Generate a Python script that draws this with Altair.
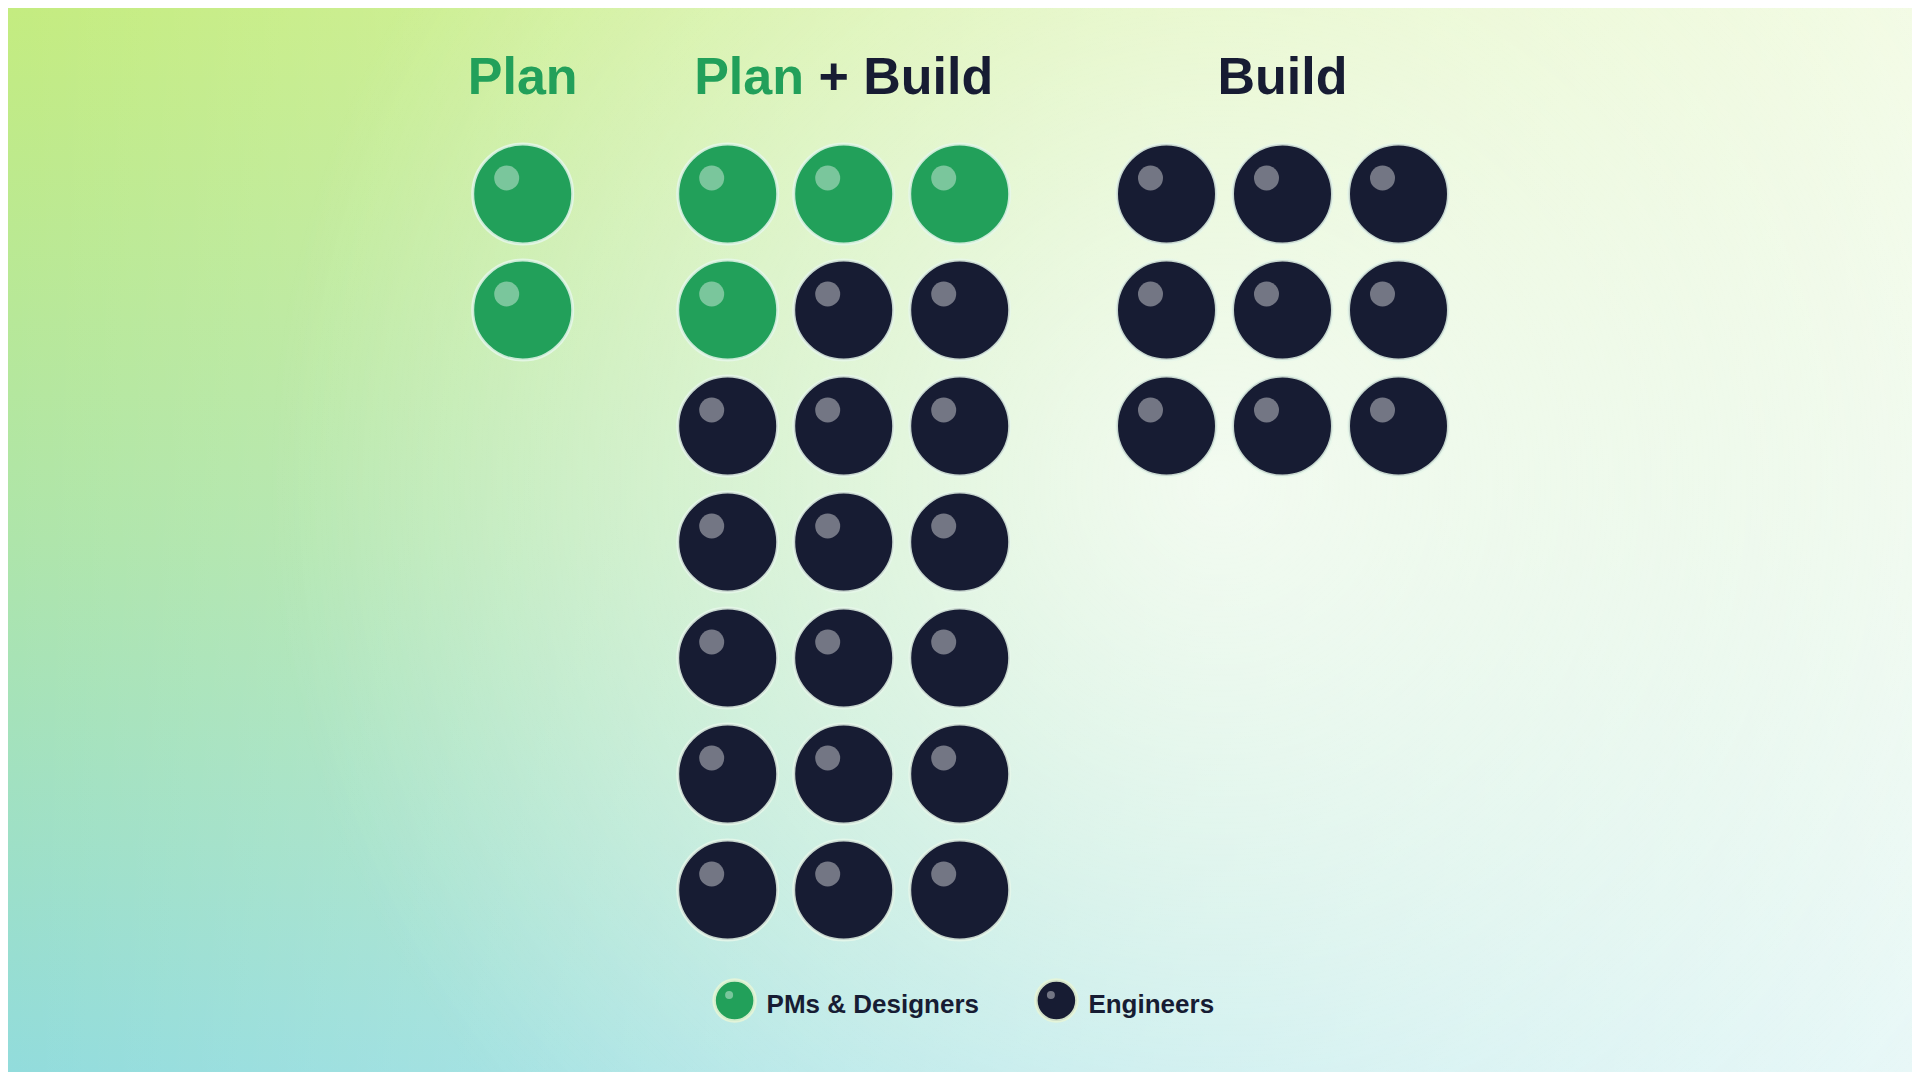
import math
import altair as alt
import pandas as pd

# ---------------- data ----------------
groups = ["Plan", "Plan + Build", "Build"]
pm_counts = [2, 4, 0]          # PMs & Designers per group
eng_counts = [0, 17, 9]        # Engineers per group
group_columns = [1, 3, 3]      # grid columns per group
legend_labels = ["PMs & Designers", "Engineers"]

GREEN = "#22a05a"
DARK = "#171c33"

# ---------------- layout ----------------
W, H = 1904, 1064
group_centers = [514.7, 835.7, 1274.5]
spacing = 116.0
row0 = 186.0
R = 50.0
title_base = 85.5
TITLE_FS = 52

rows = []
for g, pm, eng, ncol, cx in zip(groups, pm_counts, eng_counts, group_columns, group_centers):
    roles = [legend_labels[0]] * pm + [legend_labels[1]] * eng
    for i, role in enumerate(roles):
        r, c = divmod(i, ncol)
        rows.append({
            "group": g,
            "role": role,
            "x": cx + (c - (ncol - 1) / 2) * spacing,
            "y": row0 + r * spacing,
        })
tokens = pd.DataFrame(rows)

# title segments (Liberation Sans Bold metrics)
em = TITLE_FS / 1000.0
titles = []
for g, cx in zip(groups, group_centers):
    if g == "Plan + Build":
        total = (2112 + 278 + 584 + 278 + 2500) * em
        split = cx - total / 2 + 2112 * em
        titles.append({"text": "Plan", "x": split, "align": "right", "role": legend_labels[0]})
        titles.append({"text": "+ Build", "x": split + 278 * em, "align": "left", "role": legend_labels[1]})
    elif g == "Plan":
        titles.append({"text": g, "x": cx, "align": "center", "role": legend_labels[0]})
    else:
        titles.append({"text": g, "x": cx, "align": "center", "role": legend_labels[1]})
titles = pd.DataFrame(titles)
titles["y"] = title_base

legend_x0 = 726.6
legend_step = 321.8
legend_y = 992.5
legend = pd.DataFrame({
    "role": legend_labels,
    "x": [legend_x0 + i * legend_step for i in range(len(legend_labels))],
    "y": [legend_y] * len(legend_labels),
})
legend["tx"] = legend["x"] + 32
legend["ty"] = legend["y"] + 12.5

xs = alt.Scale(domain=[0, W], range=[0, W], nice=False, zero=False)
ys = alt.Scale(domain=[0, H], range=[0, H], nice=False, zero=False)
cs = alt.Scale(domain=legend_labels, range=[GREEN, DARK])

X = lambda f: alt.X(f, type="quantitative", scale=xs, axis=None)
Y = lambda f: alt.Y(f, type="quantitative", scale=ys, axis=None)
C = alt.Color("role:N", scale=cs, legend=None)

# ---------------- background ----------------
bg_df = pd.DataFrame({"x": [0], "x2": [W], "y": [0], "y2": [H]})

def bg_rect(grad):
    return alt.Chart(bg_df).mark_rect(color=grad).encode(
        x=X("x"), x2="x2", y=Y("y"), y2="y2"
    )

bg1 = bg_rect(alt.LinearGradient(
    gradient="linear",
    stops=[alt.GradientStop(color="#c4ec80", offset=0),
           alt.GradientStop(color="#aee5aa", offset=0.5),
           alt.GradientStop(color="#92dcdc", offset=1)],
    x1=0, x2=0, y1=0, y2=1))
bg2 = bg_rect(alt.LinearGradient(
    gradient="linear",
    stops=[alt.GradientStop(color="rgba(255,255,255,0)", offset=0),
           alt.GradientStop(color="rgba(255,255,255,0.34)", offset=0.5),
           alt.GradientStop(color="rgba(255,255,255,0.78)", offset=1)],
    x1=0, x2=1, y1=0, y2=0))
bg3 = bg_rect(alt.RadialGradient(
    gradient="radial",
    stops=[alt.GradientStop(color="rgba(255,255,255,0.7)", offset=0),
           alt.GradientStop(color="rgba(255,255,255,0.35)", offset=0.5),
           alt.GradientStop(color="rgba(255,255,255,0)", offset=1)],
    x1=0.637, y1=0.47, r1=0, x2=0.637, y2=0.47, r2=0.5))

# ---------------- tokens ----------------
dots = alt.Chart(tokens).mark_circle(
    size=(2 * R) ** 2, opacity=1, stroke="#e6f7ea", strokeWidth=3, strokeOpacity=0.85
).encode(x=X("x"), y=Y("y"), color=C)

shine = alt.Chart(tokens).mark_circle(
    size=25 ** 2, color="white", opacity=0.4, xOffset=-16, yOffset=-16
).encode(x=X("x"), y=Y("y"))

title_layers = []
for align in ["left", "center", "right"]:
    sub = titles[titles["align"] == align]
    if len(sub) == 0:
        continue
    title_layers.append(
        alt.Chart(sub).mark_text(
            font="Liberation Sans", fontWeight="bold", fontSize=TITLE_FS,
            align=align, baseline="alphabetic"
        ).encode(x=X("x"), y=Y("y"), text="text:N", color=C)
    )

leg_dots = alt.Chart(legend).mark_circle(
    size=41 ** 2, opacity=1, stroke="#e6f5d8", strokeWidth=3.5, strokeOpacity=0.9
).encode(x=X("x"), y=Y("y"), color=C)
leg_shine = alt.Chart(legend).mark_circle(
    size=8 ** 2, color="white", opacity=0.4, xOffset=-5.5, yOffset=-5.5
).encode(x=X("x"), y=Y("y"))
leg_text = alt.Chart(legend).mark_text(
    font="Liberation Sans", fontWeight="bold", fontSize=26, align="left",
    baseline="alphabetic", color=DARK
).encode(x=X("tx"), y=Y("ty"), text="role:N")

chart = alt.layer(
    bg1, bg2, bg3, dots, shine, *title_layers, leg_dots, leg_shine, leg_text
).properties(
    width=W, height=H, padding=0, autosize=alt.AutoSizeParams(type="none")
).configure_view(stroke=None).configure(background="#ffffff")

chart.save("out.html", embed_options={"renderer": "svg", "actions": False})
